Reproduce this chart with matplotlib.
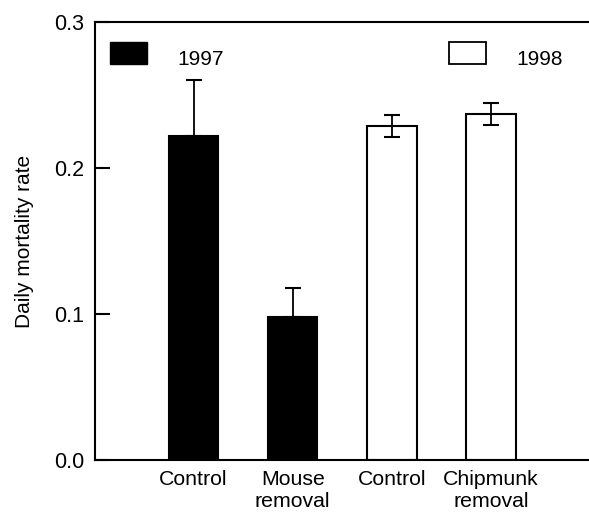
import matplotlib
matplotlib.use("Agg")
import matplotlib.pyplot as plt
from matplotlib.patches import Rectangle

plt.rcParams['font.family'] = ['Liberation Sans', 'DejaVu Sans']

categories = ["Control", "Mouse\nremoval", "Control", "Chipmunk\nremoval"]
values = [0.222, 0.098, 0.229, 0.237]
errors = [0.038, 0.020, 0.0075, 0.0075]
years = ["1997", "1997", "1998", "1998"]
legend_labels = ["1997", "1998"]

fig = plt.figure(figsize=(5.89, 5.13), dpi=100)
ax = fig.add_axes([95/589, 53/513, 495/589, 438/513])

x = [1, 2, 3, 4]
colors = ["black" if y == "1997" else "white" for y in years]
ax.bar(x, values, width=0.5, color=colors, edgecolor="black", linewidth=1.5, zorder=2)
for xi, v, e, y in zip(x, values, errors, years):
    if y == "1997":
        ax.errorbar(xi, v, yerr=[[0], [e]], fmt="none", ecolor="black", elinewidth=1.3, capsize=6, capthick=1.5, zorder=1)
    else:
        ax.errorbar(xi, v, yerr=e, fmt="none", ecolor="black", elinewidth=1.3, capsize=6, capthick=1.5, zorder=3)

ax.set_xlim(0.005, 5.0)
ax.set_ylim(0, 0.3)
ax.set_yticks([0.0, 0.1, 0.2, 0.3])
ax.set_yticklabels(["0.0", "0.1", "0.2", "0.3"], fontsize=15.5)
ax.set_xticks(x)
ax.set_xticklabels(categories, fontsize=15.3, linespacing=1.25)
ax.tick_params(axis="x", length=0, pad=7)
ax.tick_params(axis="y", direction="in", length=11, width=1.5, pad=8)
ax.set_ylabel("Daily mortality rate", fontsize=15, labelpad=14)
for s in ["left", "bottom", "top"]:
    ax.spines[s].set_linewidth(1.5)
ax.spines["right"].set_visible(False)

# legend
ax.add_patch(Rectangle((0.16, 0.271), 0.37, 0.015, facecolor="black", edgecolor="black", transform=ax.transData, zorder=4))
ax.text(0.84, 0.274, legend_labels[0], fontsize=15, va="center", ha="left")
ax.add_patch(Rectangle((3.58, 0.271), 0.37, 0.015, facecolor="white", edgecolor="black", linewidth=1.3, transform=ax.transData, zorder=4))
ax.text(4.26, 0.274, legend_labels[1], fontsize=15, va="center", ha="left")

fig.savefig("out.png", dpi=100)
